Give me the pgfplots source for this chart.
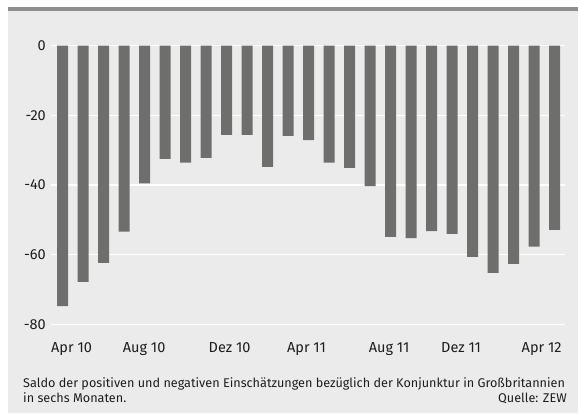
\documentclass[border=0pt]{standalone}
\usepackage{pgfplots}
\pgfplotsset{compat=1.18}
\usepackage{fontspec}
\setmainfont{Fira Sans}
\definecolor{bg}{HTML}{EBEBEB}
\definecolor{band}{HTML}{8E8E8E}
\definecolor{bar}{HTML}{6E6E6C}
\definecolor{txt}{HTML}{1E1E1E}
\begin{document}
\begin{tikzpicture}[x=1bp,y=1bp]
\path[use as bounding box] (0,0) rectangle (578,417);
\fill[bg] (8,4) rectangle (578,406.3);
\fill[band] (8,406.3) rectangle (578,410.3);
\begin{axis}[
  at={(51bp,92.5bp)}, anchor=south west,
  scale only axis, width=514bp, height=279bp,
  xmin=-0.561, xmax=24.512, ymin=-80, ymax=0,
  axis line style={draw=none},
  ymajorgrids, grid style={white, line width=1.2bp},
  ytick={-80,-60,-40,-20,0},
  yticklabels={-80,-60,-40,-20,0},
  xtick={0.44,3.98,8.15,11.9,15.93,19.44,23.37},
  xticklabels={Apr 10,Aug 10,Dez 10,Apr 11,Aug 11,Dez 11,Apr 12},
  major tick length=0pt,
  tick style={draw=none},
  /pgf/number format/assume math mode=true,
  yticklabel style={anchor=east, inner sep=0pt, xshift=-5bp, font=\fontsize{14.5bp}{17bp}\selectfont, text=txt},
  xticklabel style={anchor=base, inner sep=0pt, yshift=-28bp, font=\fontsize{14.5bp}{17bp}\selectfont, text=txt},
  clip=false,
]
\addplot[ybar, bar width=11bp, fill=bar, draw=none] coordinates {
(0,-74.7) (1,-67.8) (2,-62.3) (3,-53.4) (4,-39.5) (5,-32.5) (6,-33.6) (7,-32.2)
(8,-25.6) (9,-25.6) (10,-34.8) (11,-25.9) (12,-27.1) (13,-33.6) (14,-35.1) (15,-40.3)
(16,-54.9) (17,-55.2) (18,-53.2) (19,-54.0) (20,-60.6) (21,-65.2) (22,-62.6) (23,-57.7) (24,-52.9)
};
\end{axis}
\node[anchor=base west, inner sep=0pt, font=\fontsize{12.65bp}{15.4bp}\selectfont, text=txt] at (23,29.7) {Saldo der positiven und negativen Einschätzungen bezüglich der Konjunktur in Großbritannien};
\node[anchor=base west, inner sep=0pt, font=\fontsize{12.65bp}{15.4bp}\selectfont, text=txt] at (23,14.3) {in sechs Monaten.};
\node[anchor=base east, inner sep=0pt, font=\fontsize{12.65bp}{15.4bp}\selectfont, text=txt] at (567,14.3) {Quelle: ZEW};
\end{tikzpicture}
\end{document}
